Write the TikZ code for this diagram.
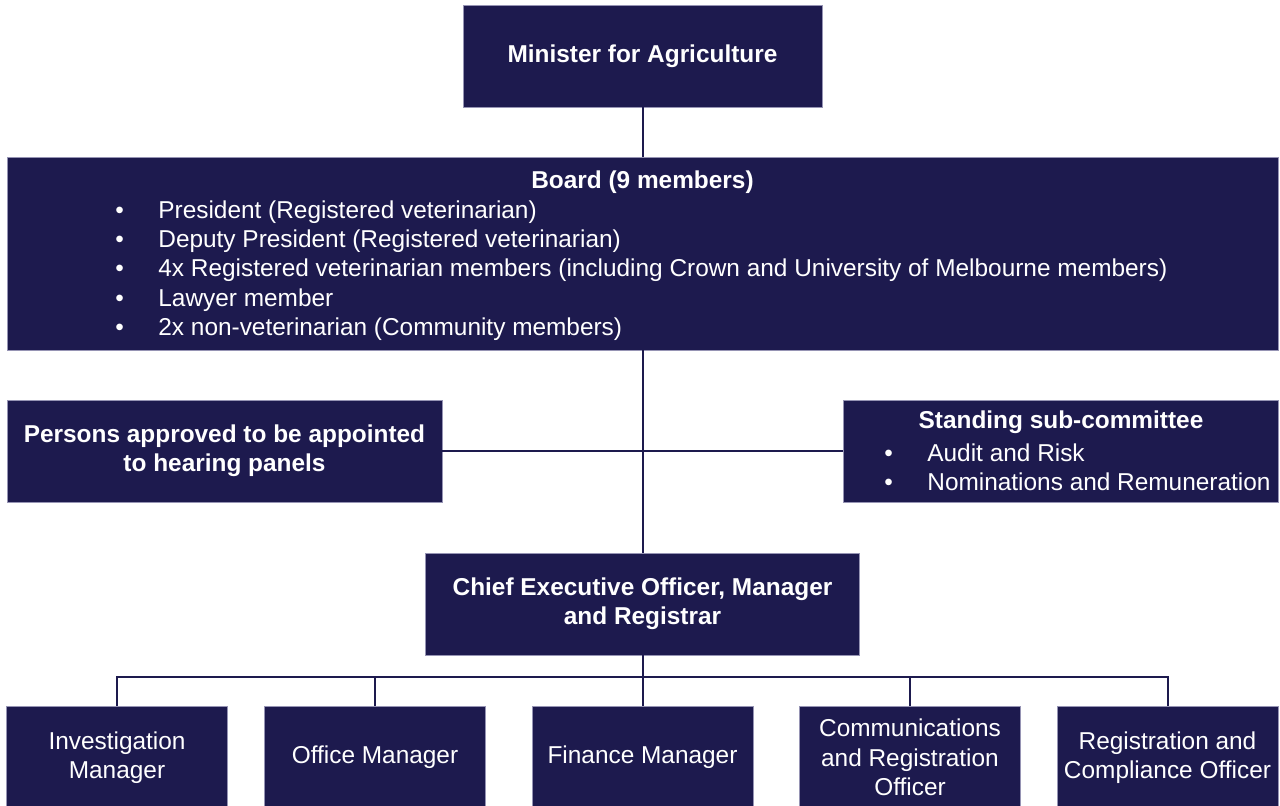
\documentclass[tikz,border=0pt]{standalone}
\usepackage{fontspec}
\setmainfont{Liberation Sans}

\definecolor{navy}{RGB}{29,26,78}
\definecolor{rim}{RGB}{150,148,180}

\newlength{\pxunit}
\setlength{\pxunit}{0.5pt}
\newcommand{\orgfont}{\fontsize{12.2}{14.7}\selectfont}
\newcommand{\bul}{\makebox[43\pxunit][l]{\textbullet}}

\begin{document}
\begin{tikzpicture}[x=0.5pt, y=-0.5pt,
    unit/.style={fill=navy, draw=rim, line width=0.3pt, inner sep=0pt,
        minimum height=102\pxunit},
    head/.style={font=\orgfont\bfseries, text=white, align=center, inner sep=0pt},
    plain/.style={font=\orgfont, text=white, align=center, inner sep=0pt},
    members/.style={font=\orgfont, text=white, align=left, inner sep=0pt},
    link/.style={draw=navy, line width=1pt}]
    \useasboundingbox (0,0) rectangle (1280,805);

    % top of the tree
    \node[unit, head, minimum width=359\pxunit] (minister) at (642.5,56) {Minister for Agriculture};

    % the board with its members
    \node[unit, minimum width=1271\pxunit, minimum height=193\pxunit] (board) at (642.5,253.5) {};
    \node[head] (board title) at (642.5,182.5) {Board (9 members)};
    \node[members, anchor=west] (board list) at (115,270.5) {%
        \bul President (Registered veterinarian)\\
        \bul Deputy President (Registered veterinarian)\\
        \bul 4x Registered veterinarian members (including Crown and University of Melbourne members)\\
        \bul Lawyer member\\
        \bul 2x non-veterinarian (Community members)};

    % side boxes
    \node[unit, head, minimum width=435\pxunit] (persons) at (224.5,451)
        {Persons approved to be appointed\\to hearing panels};
    \node[unit, minimum width=435\pxunit] (standing) at (1060.5,451) {};
    \node[head] (standing title) at (1061,422.5) {Standing sub-committee};
    \node[members, anchor=west] (standing list) at (884,467) {%
        \bul Audit and Risk\\
        \bul Nominations and Remuneration};

    \node[unit, head, minimum width=434\pxunit] (ceo) at (642.5,604)
        {Chief Executive Officer, Manager\\and Registrar};

    \draw[link] (minister) -- (board);
    \draw[link] (board) -- (ceo);
    \draw[link] (persons) -- (standing);

    % staff under the CEO
    \path (ceo.south) ++(0,22) coordinate (bus);
    \draw[link] (ceo) -- (bus);
    \foreach \name/\x/\txt in {inv/117/Investigation\\Manager,
                               office/375/Office Manager,
                               finance/642.5/Finance Manager,
                               comms/910/Communications\\and Registration\\Officer,
                               reg/1167.5/Registration and\\Compliance Officer}
    {
        \node[unit, plain, minimum width=221\pxunit] (\name) at (\x,757.5) {\txt};
        \draw[link] (bus) -| (\name.north);
    }
\end{tikzpicture}
\end{document}
